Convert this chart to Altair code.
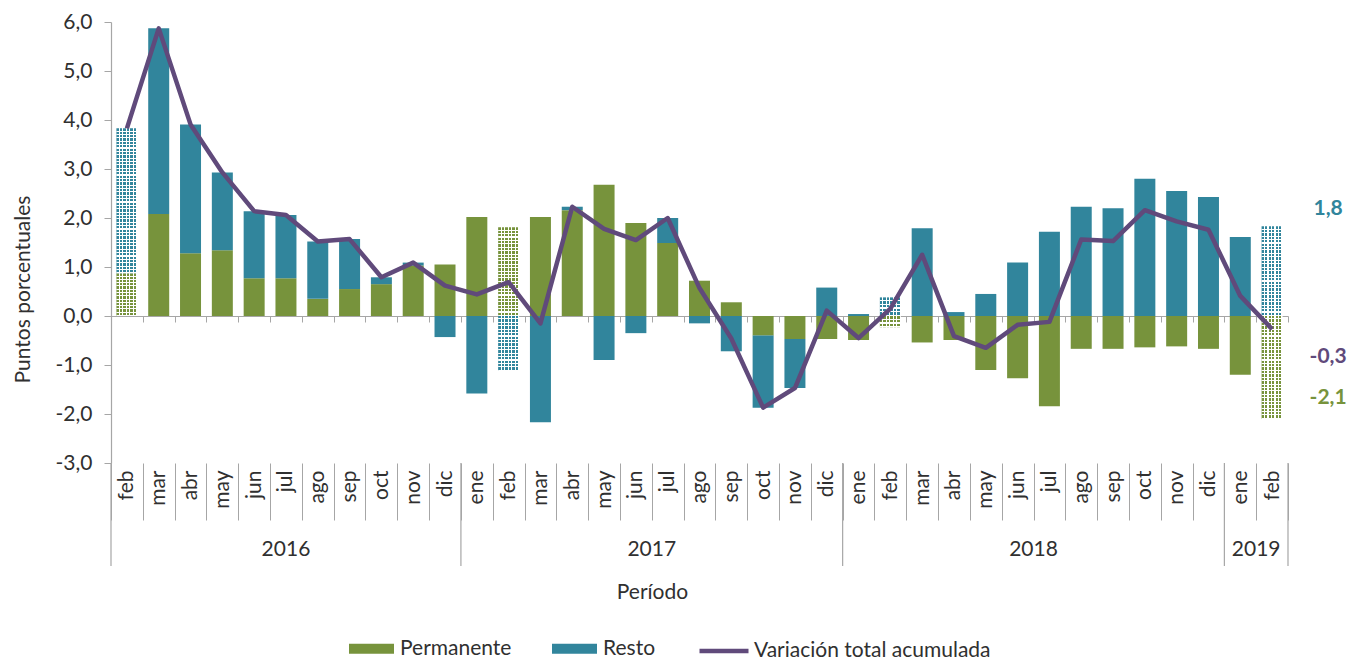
import altair as alt
import pandas as pd

# ---------------- data ----------------
years = ["2016"] * 11 + ["2017"] * 12 + ["2018"] * 12 + ["2019"] * 2
months = ["feb", "mar", "abr", "may", "jun", "jul", "ago", "sep", "oct", "nov", "dic",
          "ene", "feb", "mar", "abr", "may", "jun", "jul", "ago", "sep", "oct", "nov", "dic",
          "ene", "feb", "mar", "abr", "may", "jun", "jul", "ago", "sep", "oct", "nov", "dic",
          "ene", "feb"]
permanente = [0.87, 2.08, 1.28, 1.34, 0.77, 0.77, 0.35, 0.55, 0.65, 1.03, 1.05,
              2.02, 1.81, 2.02, 2.16, 2.68, 1.90, 1.49, 0.72, 0.28, -0.40, -0.47, -0.47,
              -0.49, -0.23, -0.54, -0.49, -1.10, -1.27, -1.84, -0.67, -0.67, -0.64, -0.62, -0.67,
              -1.20, -2.10]
resto = [2.96, 3.79, 2.63, 1.59, 1.37, 1.29, 1.17, 1.02, 0.14, 0.06, -0.43,
         -1.58, -1.12, -2.17, 0.07, -0.90, -0.35, 0.51, -0.15, -0.72, -1.47, -1.00, 0.58,
         0.04, 0.38, 1.79, 0.08, 0.45, 1.09, 1.72, 2.23, 2.20, 2.80, 2.55, 2.43,
         1.61, 1.83]
variacion_total = [3.83, 5.87, 3.91, 2.93, 2.14, 2.06, 1.52, 1.57, 0.79, 1.09, 0.62,
                   0.44, 0.69, -0.15, 2.23, 1.78, 1.55, 2.00, 0.57, -0.46, -1.87, -1.47, 0.11,
                   -0.45, 0.15, 1.25, -0.41, -0.65, -0.18, -0.12, 1.56, 1.53, 2.16, 1.93, 1.76,
                   0.41, -0.27]
patterned_keys = ["2016-feb", "2017-feb", "2018-feb", "2019-feb"]
series_names = ["Permanente", "Resto"]
line_name = "Variación total acumulada"

# ---------------- styles ----------------
GREEN = "#77933C"
TEAL = "#31859C"
PURPLE = "#604A7B"
GRAY = "#A6A6A6"
TXT = "#303030"
FONT = "Lato"
FS = 21
W, H = 1177, 441
YMIN, YMAX = -3, 6

keys = [f"{y}-{m}" for y, m in zip(years, months)]

# stacked segments (positive and negative stacked separately)
rows = []
for k, p, r in zip(keys, permanente, resto):
    if (p >= 0) == (r >= 0):
        segs = [("Permanente", 0, p), ("Resto", p, p + r)]
    else:
        segs = [("Permanente", 0, p), ("Resto", 0, r)]
    for s, a, b in segs:
        rows.append({"key": k, "serie": s, "y0": a, "y1": b, "pat": k in patterned_keys})
bars = pd.DataFrame(rows)
line_df = pd.DataFrame({"key": keys, "valor": variacion_total, "serie": line_name})

xscale = alt.Scale(paddingInner=0, paddingOuter=0)
yscale = alt.Scale(domain=[YMIN, YMAX], nice=False, zero=False)
BAR_W = alt.RelativeBandSize(0.66)


def xenc(axis=None, **kw):
    return alt.X("key:N", sort=keys, scale=xscale, axis=axis, **kw)


def yenc(field, axis=None):
    return alt.Y(field, scale=yscale, axis=axis)


def stripes(c1, c2, n, frac=0.6):
    stops = []
    for i in range(n):
        a, b, c = i / n, (i + frac) / n, (i + 1) / n
        stops += [alt.GradientStop(offset=a, color=c1), alt.GradientStop(offset=b, color=c1),
                  alt.GradientStop(offset=b, color=c2), alt.GradientStop(offset=c, color=c2)]
    return stops


zero_axis = alt.Axis(orient="bottom", offset=-H * (0 - YMIN) / (YMAX - YMIN), labels=False,
                     title=None, domain=True, domainColor=GRAY, domainWidth=1.2, ticks=True,
                     tickBand="extent", tickSize=6, tickColor=GRAY, grid=False)

y_axis = alt.Axis(values=list(range(YMIN, YMAX + 1)),
                  labelExpr="(datum.value < 0 ? '-' : '') + replace(format(abs(datum.value), '.1f'), '.', ',')",
                  labelFontSize=FS, labelFont=FONT, labelColor=TXT, labelPadding=12,
                  tickSize=7, tickColor=GRAY, domainColor=GRAY, domainWidth=1.2, grid=False,
                  title="Puntos porcentuales", titleFontSize=FS, titleFont=FONT, titleColor=TXT,
                  titleFontWeight="normal", titleX=-88, titleY=267, titleAngle=270,
                  titleAlign="center", titleBaseline="middle")

month_axis = alt.Axis(orient="bottom", offset=0, domain=False, ticks=True, tickBand="extent",
                      tickSize=57, tickColor=GRAY, labelAngle=270, labelPadding=-50,
                      labelFontSize=FS, labelFont=FONT, labelColor=TXT,
                      labelExpr="split(datum.value, '-')[1]", labelOverlap=False,
                      labelBound=False, labelFlush=False, grid=False,
                      title="Período", titleFontSize=FS, titleFont=FONT, titleColor=TXT,
                      titleFontWeight="normal", titleX=541, titleY=129,
                      titleAlign="center", titleBaseline="middle")

fill_legend = alt.Legend(title=None, orient="none", legendX=238, legendY=604,
                         direction="horizontal", symbolType="M-1,-0.22L1,-0.22L1,0.22L-1,0.22Z",
                         symbolSize=2025, symbolStrokeWidth=0, labelFontSize=FS, labelFont=FONT,
                         labelColor=TXT, labelOffset=6, columnPadding=40, padding=0,
                         labelLimit=400)
stroke_legend = alt.Legend(title=None, orient="none", legendX=586, legendY=602,
                           direction="horizontal", symbolType="M-1,0L1,0", symbolSize=2401,
                           symbolStrokeWidth=4.5, labelFontSize=FS, labelFont=FONT,
                           labelColor=TXT, labelOffset=3, padding=0, labelLimit=400)

layers = []

# solid bars
layers.append(
    alt.Chart(bars[~bars["pat"]]).mark_bar(width=BAR_W).encode(
        x=xenc(zero_axis),
        y=yenc("y0:Q", y_axis),
        y2="y1:Q",
        fill=alt.Fill("serie:N", scale=alt.Scale(domain=series_names, range=[GREEN, TEAL]),
                      legend=fill_legend),
    )
)

# dotted (patterned) bars: vertical stripes + horizontal white overlay => dots
for s, col in zip(series_names, [GREEN, TEAL]):
    sub = bars[bars["pat"] & (bars["serie"] == s)]
    layers.append(
        alt.Chart(sub).mark_bar(
            width=BAR_W,
            fill=alt.LinearGradient(gradient="linear", x1=0, x2=1, y1=0, y2=0,
                                    stops=stripes(col, "#ffffff", 6, 0.68)),
        ).encode(x=xenc(), y=yenc("y0:Q"), y2="y1:Q")
    )
for _, r in bars[bars["pat"]].iterrows():
    hpx = abs(r["y1"] - r["y0"]) * H / (YMAX - YMIN)
    n = max(1, int(round(hpx / 3.4)))
    layers.append(
        alt.Chart(pd.DataFrame([r])).mark_bar(
            width=BAR_W,
            fill=alt.LinearGradient(gradient="linear", x1=0, x2=0, y1=0, y2=1,
                                    stops=stripes("rgba(255,255,255,0)", "#ffffff", n, 0.68)),
        ).encode(x=xenc(), y=yenc("y0:Q"), y2="y1:Q")
    )

# year separators
first_keys = [keys[i] for i in range(len(keys)) if i == 0 or years[i] != years[i - 1]]
layers.append(
    alt.Chart(pd.DataFrame({"key": first_keys})).mark_rule(color=GRAY, strokeWidth=1.2).encode(
        x=xenc(bandPosition=0), y=alt.value(H), y2=alt.value(H + 103))
)
layers.append(
    alt.Chart(pd.DataFrame({"key": [keys[-1]]})).mark_rule(color=GRAY, strokeWidth=1.2).encode(
        x=xenc(bandPosition=1), y=alt.value(H), y2=alt.value(H + 103))
)

# year labels
odd_rows, even_rows = [], []
for yv in dict.fromkeys(years):
    idx = [i for i, v in enumerate(years) if v == yv]
    n = len(idx)
    if n % 2 == 1:
        odd_rows.append({"key": keys[idx[n // 2]], "anio": yv})
    else:
        even_rows.append({"key": keys[idx[n // 2 - 1]], "anio": yv})
for rws, bp in [(odd_rows, 0.5), (even_rows, 1)]:
    layers.append(
        alt.Chart(pd.DataFrame(rws)).mark_text(fontSize=FS, font=FONT, color=TXT,
                                               baseline="middle", align="center").encode(
            x=xenc(bandPosition=bp), y=alt.value(H + 87), text="anio:N")
    )

# line
layers.append(
    alt.Chart(line_df).mark_line(strokeWidth=4.5, strokeJoin="round").encode(
        x=xenc(month_axis),
        y=yenc("valor:Q"),
        stroke=alt.Stroke("serie:N", scale=alt.Scale(domain=[line_name], range=[PURPLE]),
                          legend=stroke_legend),
    )
)

# end-of-series annotations
last = keys[-1]
for val, col, dy in [(resto[-1], TEAL, -17), (variacion_total[-1], PURPLE, 28),
                     (permanente[-1], GREEN, -21)]:
    lab = f"{val:.1f}".replace(".", ",")
    layers.append(
        alt.Chart(pd.DataFrame({"key": [last], "v": [val], "lab": [lab]})).mark_text(
            fontSize=FS, font=FONT, fontWeight="bold", color=col, dx=56, dy=dy,
            align="center", baseline="middle").encode(x=xenc(), y=yenc("v:Q"), text="lab:N")
    )

chart = alt.layer(*layers).resolve_axis(x="independent", y="independent").properties(
    width=W, height=H,
    autosize=alt.AutoSizeParams(type="none"),
    padding={"left": 103, "top": 14, "right": 65, "bottom": 652 - 14 - H},
).configure(font=FONT).configure_view(stroke=None)

chart.save("out.html", embed_options={"renderer": "svg", "actions": False})
